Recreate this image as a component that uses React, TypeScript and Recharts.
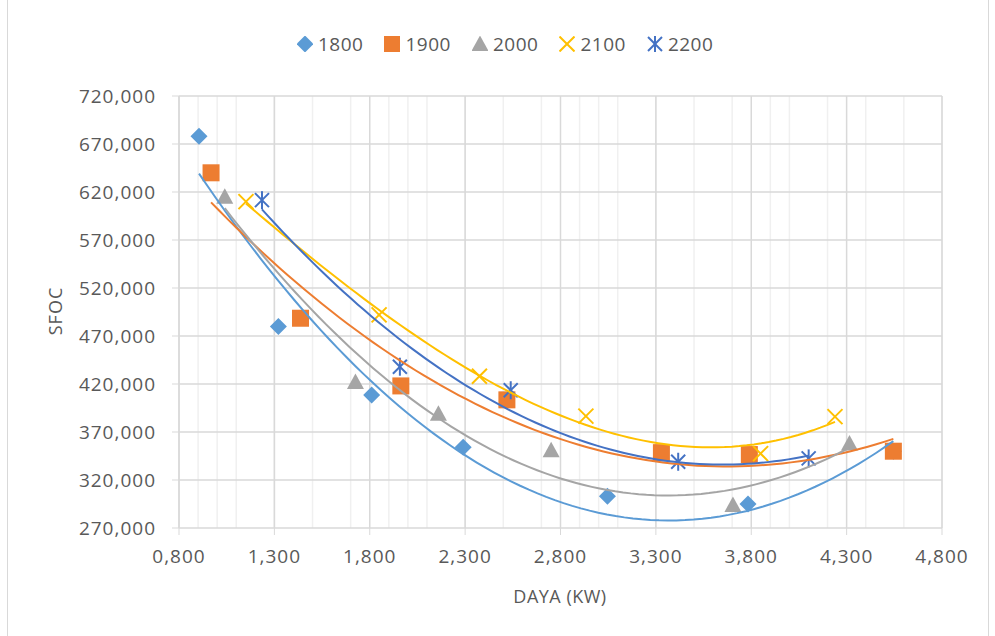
import React from 'react';
import { ScatterChart, Scatter, XAxis, YAxis, CartesianGrid } from 'recharts';

const xTicks = [0.8, 1.3, 1.8, 2.3, 2.8, 3.3, 3.8, 4.3, 4.8];
const xMinorTicks = [
  0.8, 0.9, 1.0, 1.1, 1.2, 1.3, 1.4, 1.5, 1.6, 1.7, 1.8, 1.9, 2.0, 2.1, 2.2, 2.3, 2.4, 2.5, 2.6, 2.7,
  2.8, 2.9, 3.0, 3.1, 3.2, 3.3, 3.4, 3.5, 3.6, 3.7, 3.8, 3.9, 4.0, 4.1, 4.2, 4.3, 4.4, 4.5, 4.6, 4.7, 4.8,
];
const yTicks = [270, 320, 370, 420, 470, 520, 570, 620, 670, 720];

const seriesNames = ['1800', '1900', '2000', '2100', '2200'];
const seriesColors = ['#5B9BD5', '#ED7D31', '#A5A5A5', '#FFC000', '#4472C4'];
const trendOrders = [2, 2, 2, 3, 2];

const x1800 = [0.905, 1.321, 1.81, 2.29, 3.046, 3.783, 4.545];
const y1800 = [678, 480, 408.5, 354, 303, 295, 350];
const x1900 = [0.968, 1.437, 1.963, 2.519, 3.329, 3.79, 4.545];
const y1900 = [640, 488.5, 418, 403.5, 348.5, 346.5, 350];
const x2000 = [1.04, 1.725, 2.16, 2.751, 3.704, 4.315];
const y2000 = [615, 422, 389, 351, 294, 358];
const x2100 = [1.151, 1.849, 2.375, 2.933, 3.849, 4.239];
const y2100 = [610, 492, 428, 386.5, 347.5, 386];
const x2200 = [1.235, 1.958, 2.539, 3.417, 4.101];
const y2200 = [611.5, 438, 413.5, 339, 342.5];

const xs = [x1800, x1900, x2000, x2100, x2200];
const ys = [y1800, y1900, y2000, y2100, y2200];

const TEXT = '#595959';
const FONT = '"Open Sans", "DejaVu Sans", sans-serif';

// least-squares polynomial (Excel polynomial trendline)
function polyFit(px: number[], py: number[], order: number) {
  const n = order + 1;
  const A: number[][] = [];
  for (let r = 0; r < n; r++) {
    const row: number[] = [];
    for (let c = 0; c < n; c++) {
      let s = 0;
      px.forEach((x) => (s += Math.pow(x, r + c)));
      row.push(s);
    }
    let t = 0;
    px.forEach((x, i) => (t += Math.pow(x, r) * py[i]));
    row.push(t);
    A.push(row);
  }
  for (let i = 0; i < n; i++) {
    let p = i;
    for (let k = i + 1; k < n; k++) if (Math.abs(A[k][i]) > Math.abs(A[p][i])) p = k;
    [A[i], A[p]] = [A[p], A[i]];
    for (let k = i + 1; k < n; k++) {
      const f = A[k][i] / A[i][i];
      for (let c = i; c <= n; c++) A[k][c] -= f * A[i][c];
    }
  }
  const coef = new Array(n).fill(0);
  for (let i = n - 1; i >= 0; i--) {
    let s = A[i][n];
    for (let c = i + 1; c < n; c++) s -= A[i][c] * coef[c];
    coef[i] = s / A[i][i];
  }
  return (x: number) => coef.reduce((acc, c, k) => acc + c * Math.pow(x, k), 0);
}

function trend(px: number[], py: number[], order: number) {
  const f = polyFit(px, py, order);
  const lo = Math.min(...px);
  const hi = Math.max(...px);
  const n = 80;
  const out: { x: number; y: number }[] = [];
  for (let i = 0; i <= n; i++) {
    const x = lo + ((hi - lo) * i) / n;
    out.push({ x, y: f(x) });
  }
  return out;
}

const pointData = xs.map((arr, s) => arr.map((x, i) => ({ x, y: ys[s][i] })));
const trendData = xs.map((arr, s) => trend(arr, ys[s], trendOrders[s]));

const Diamond = (props: any) => {
  const { cx, cy } = props;
  const r = 8.5;
  return <polygon points={`${cx},${cy - r} ${cx + r},${cy} ${cx},${cy + r} ${cx - r},${cy}`} fill={seriesColors[0]} />;
};
const Square = (props: any) => {
  const { cx, cy } = props;
  return <rect x={cx - 8.5} y={cy - 8.5} width={17} height={17} fill={seriesColors[1]} />;
};
const Triangle = (props: any) => {
  const { cx, cy } = props;
  return <polygon points={`${cx},${cy - 8.5} ${cx + 8.5},${cy + 7} ${cx - 8.5},${cy + 7}`} fill={seriesColors[2]} />;
};
const Cross = (props: any) => {
  const { cx, cy } = props;
  const r = 7.5;
  return (
    <g stroke={seriesColors[3]} strokeWidth={2}>
      <line x1={cx - r} y1={cy - r} x2={cx + r} y2={cy + r} />
      <line x1={cx - r} y1={cy + r} x2={cx + r} y2={cy - r} />
    </g>
  );
};
const Star = (props: any) => {
  const { cx, cy } = props;
  const r = 7;
  return (
    <g stroke={seriesColors[4]} strokeWidth={2}>
      <line x1={cx - r} y1={cy - r} x2={cx + r} y2={cy + r} />
      <line x1={cx - r} y1={cy + r} x2={cx + r} y2={cy - r} />
      <line x1={cx} y1={cy - 9} x2={cx} y2={cy + 9} />
    </g>
  );
};
const shapes = [Diamond, Square, Triangle, Cross, Star];
const NoShape = () => <g />;

const LegendIcon = ({ idx }: { idx: number }) => {
  const Shape = shapes[idx];
  return (
    <svg width={16} height={16} style={{ display: 'block' }}>
      <Shape cx={8} cy={8} />
    </svg>
  );
};

const fmt = (v: number) => v.toFixed(3).replace('.', ',');

export default function App() {
  return (
    <div style={{ position: 'absolute', left: 0, top: 0, width: 995, height: 636, background: '#fff', fontFamily: FONT, overflow: 'hidden' }}>
      <div style={{ position: 'absolute', left: 7, top: 0, width: 980, height: 636, borderLeft: '1px solid #D9D9D9', borderRight: '1px solid #D9D9D9' }} />
      <ScatterChart width={995} height={636} margin={{ top: 96, right: 53, left: 79, bottom: 48 }}>
        <XAxis xAxisId="minor" type="number" dataKey="x" domain={[0.8, 4.8]} ticks={xMinorTicks} hide allowDataOverflow />
        <XAxis
          type="number"
          dataKey="x"
          domain={[0.8, 4.8]}
          ticks={xTicks}
          tickFormatter={fmt}
          height={60}
          tickSize={7}
          tickMargin={15}
          axisLine={false}
          tickLine={{ stroke: '#D9D9D9' }}
          tick={{ fill: TEXT, fontSize: 19, fontFamily: FONT, letterSpacing: 1 }}
          allowDataOverflow
        />
        <YAxis
          type="number"
          dataKey="y"
          domain={[270, 720]}
          ticks={yTicks}
          tickFormatter={fmt}
          width={100}
          tickSize={7}
          tickMargin={16}
          axisLine={{ stroke: '#D9D9D9' }}
          tickLine={{ stroke: '#D9D9D9' }}
          tick={{ fill: TEXT, fontSize: 19, fontFamily: FONT, letterSpacing: 1 }}
          allowDataOverflow
        />
        <CartesianGrid xAxisId="minor" horizontal={false} stroke="#F0F0F0" strokeWidth={1.5} />
        <CartesianGrid stroke="#D9D9D9" strokeWidth={1.5} />
        {pointData.map((d, s) => (
          <Scatter key={'p' + s} name={seriesNames[s]} data={d} shape={shapes[s]} isAnimationActive={false} />
        ))}
        {trendData.map((d, s) => (
          <Scatter
            key={'t' + s}
            data={d}
            shape={NoShape}
            line={{ stroke: seriesColors[s], strokeWidth: 2 }}
            lineType="joint"
            legendType="none"
            isAnimationActive={false}
          />
        ))}
      </ScatterChart>
      <div style={{ position: 'absolute', left: 297, top: 31, height: 26, display: 'flex', alignItems: 'center' }}>
        {seriesNames.map((n, i) => (
          <div key={n} style={{ display: 'flex', alignItems: 'center', marginRight: 21 }}>
            <LegendIcon idx={i} />
            <span style={{ marginLeft: 5, fontSize: 19, color: TEXT, letterSpacing: 0.5 }}>{n}</span>
          </div>
        ))}
      </div>
      <div style={{ position: 'absolute', left: 460, width: 200, top: 584, textAlign: 'center', fontSize: 18, color: TEXT, letterSpacing: 0.5 }}>
        DAYA (KW)
      </div>
      <div
        style={{
          position: 'absolute',
          left: 55,
          top: 311,
          transform: 'translate(-50%, -50%) rotate(-90deg)',
          fontSize: 18,
          color: TEXT,
          letterSpacing: 1,
          whiteSpace: 'nowrap',
        }}
      >
        SFOC
      </div>
    </div>
  );
}
